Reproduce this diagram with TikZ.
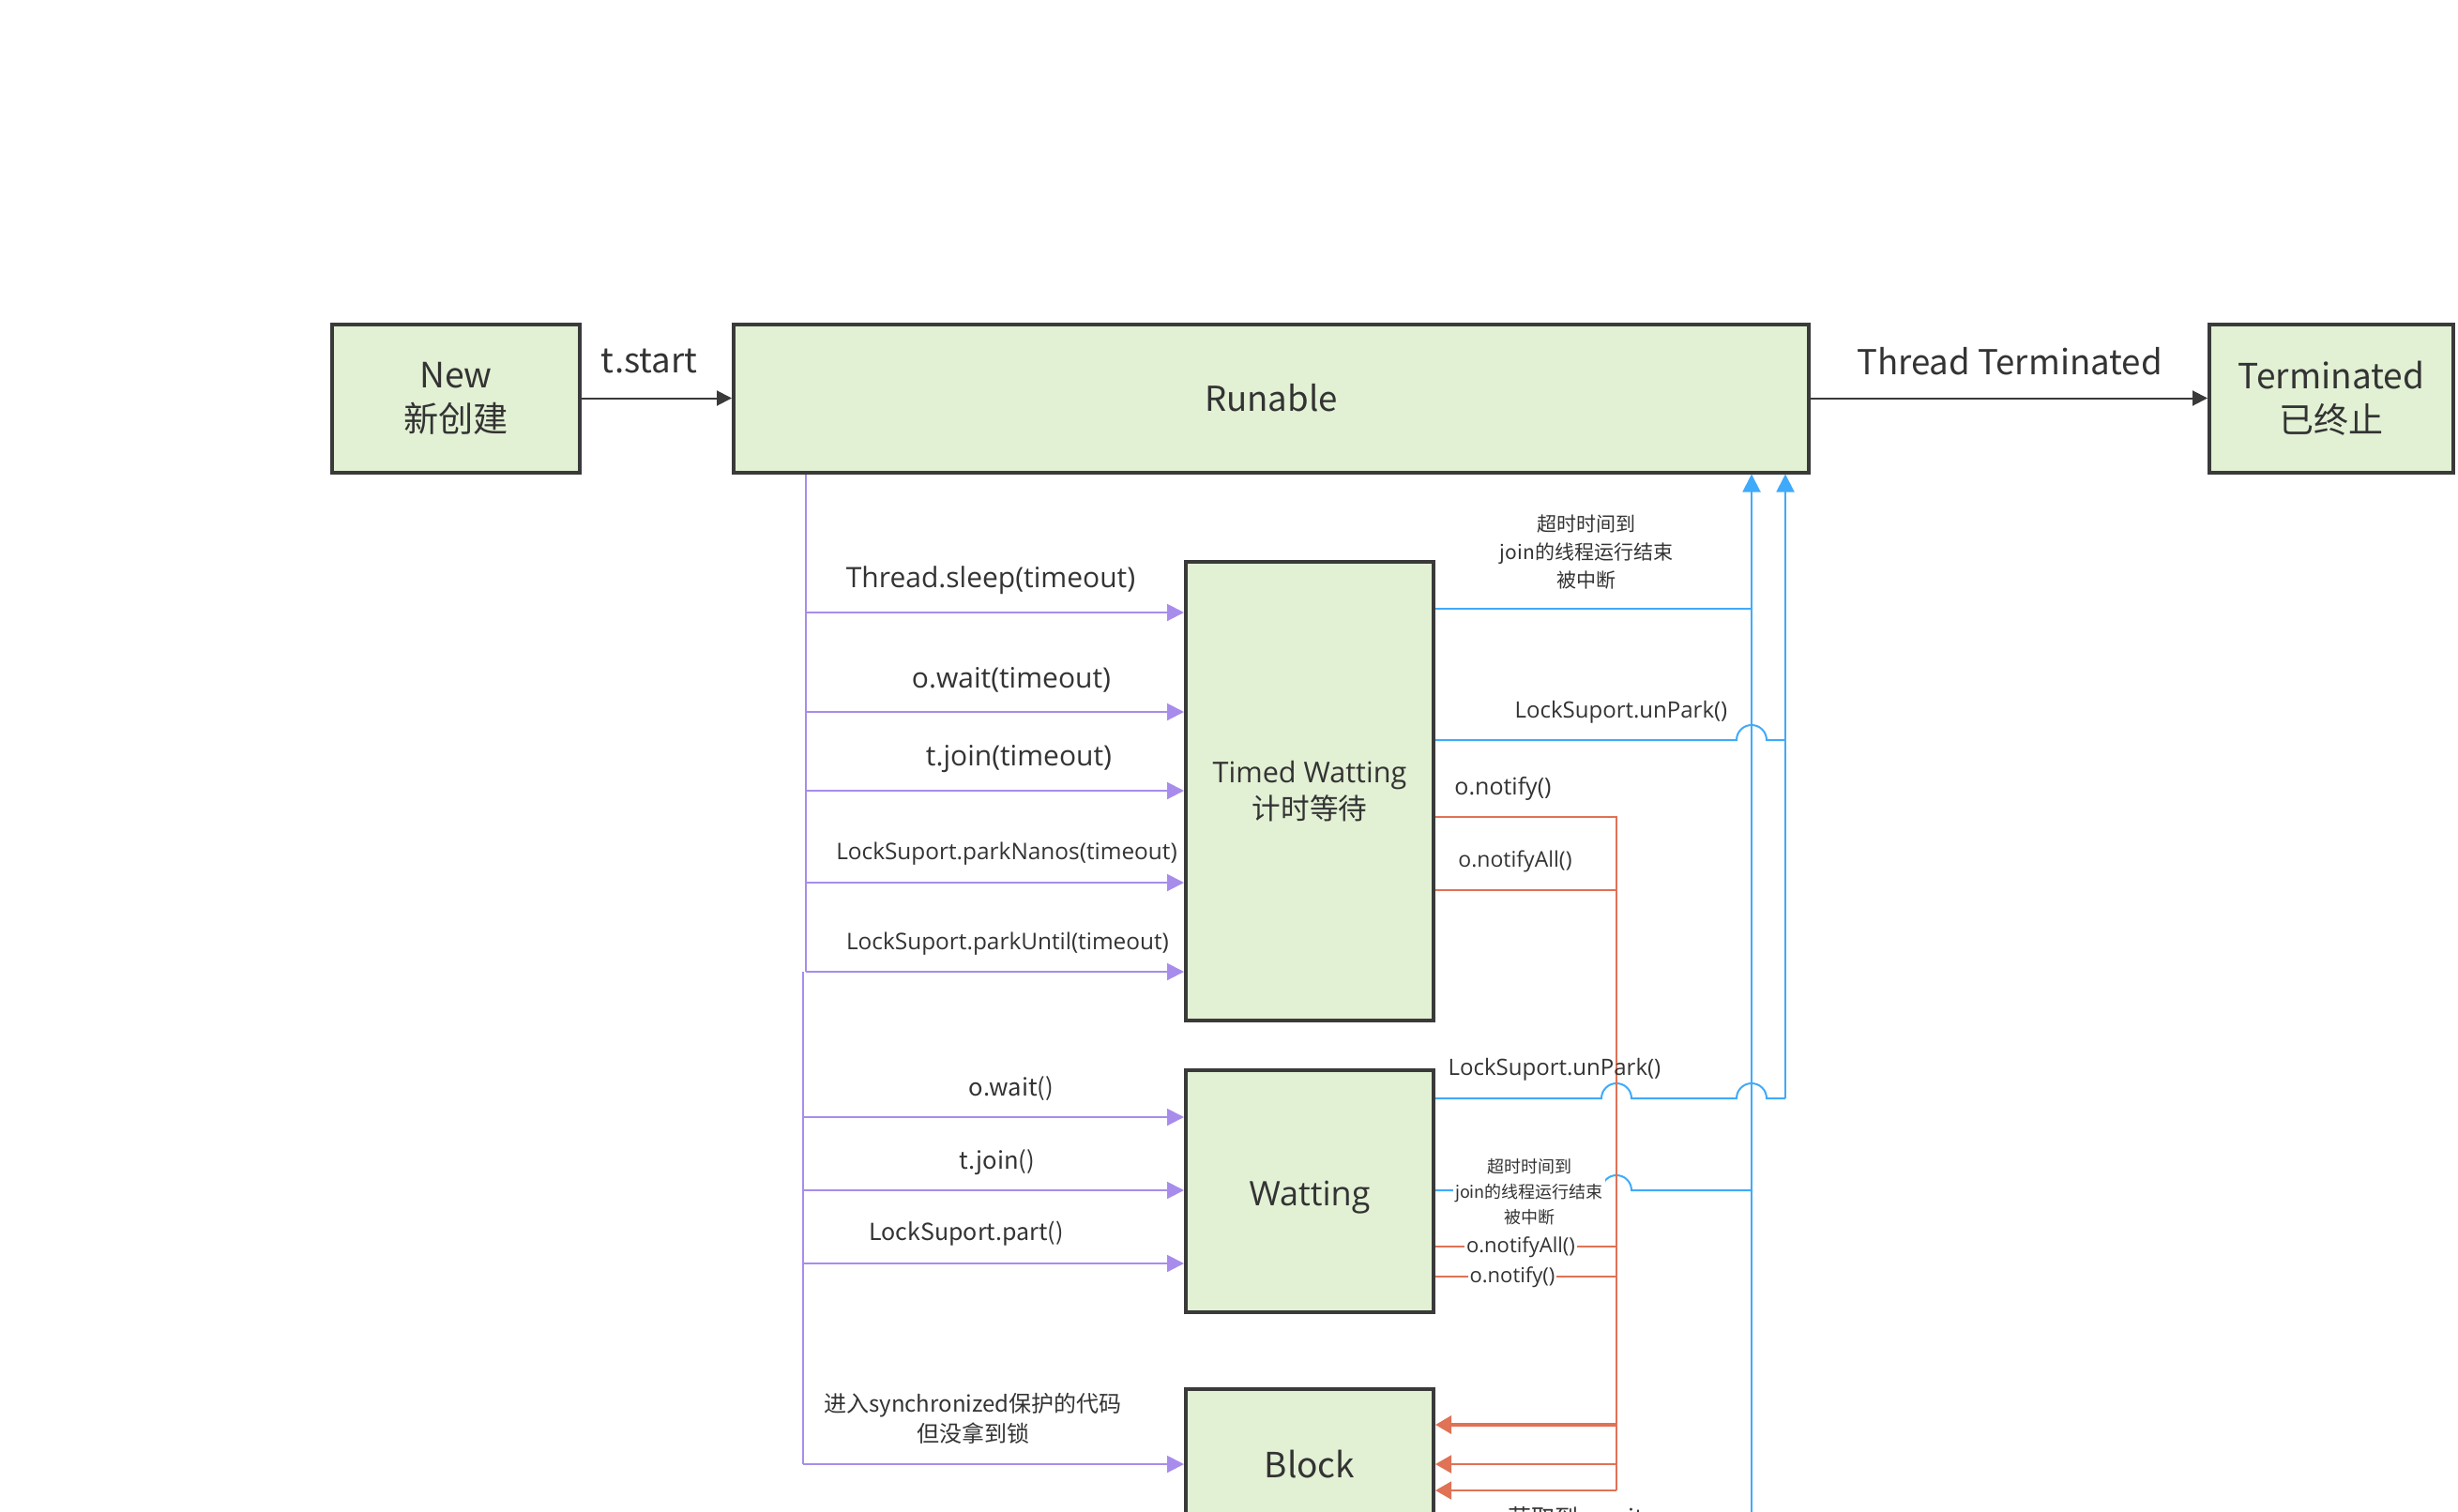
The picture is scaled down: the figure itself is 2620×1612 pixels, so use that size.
\documentclass[tikz,border=0pt]{standalone}
\usepackage{fontspec}
\setmainfont{Noto Sans CJK SC}
\newfontfamily\seg{Open Sans}
\usetikzlibrary{arrows.meta}
\definecolor{boxfill}{RGB}{226,240,212}
\definecolor{boxline}{RGB}{58,58,58}
\definecolor{txt}{RGB}{51,51,51}
\definecolor{purp}{RGB}{168,140,236}
\definecolor{blu}{RGB}{64,170,250}
\definecolor{redl}{RGB}{224,114,86}
\newcommand{\fs}[2]{\fontsize{#1pt}{#2pt}\selectfont}
\begin{document}
\begin{tikzpicture}[x=0.5pt,y=-0.5pt,
  state/.style={draw=boxline, line width=2pt, fill=boxfill, text=txt, align=center, inner sep=0pt, minimum width=132pt},
  lbl/.style={text=txt, inner sep=0pt, align=center},
  wlbl/.style={lbl, fill=white, inner xsep=1pt, inner ysep=0pt},
  darrow/.style={draw=boxline, line width=1pt, -{Triangle[length=8pt,width=8pt]}},
  pline/.style={draw=purp, line width=1pt},
  parrow/.style={pline, -{Triangle[length=9pt,width=9pt]}},
  bline/.style={draw=blu, line width=1pt},
  barrow/.style={bline, -{Triangle[length=9.5pt,width=9.5pt]}},
  rline/.style={draw=redl, line width=1pt},
  rarrow/.style={rline, -{Triangle[length=8.5pt,width=9.5pt]}}
]
\useasboundingbox (0,0) rectangle (2620,1612);
\clip (0,0) rectangle (2620,1612);

% states
\node[state, minimum height=79pt, font=\fs{18.6}{23.5}] (new) at (486,424.5) {New\\新创建};
\node[state, minimum width=573pt, minimum height=79pt, font=\fs{18.3}{23.5}] (run) at (1355,424.5) {Runable};
\node[state, minimum width=130pt, minimum height=79pt, font=\fs{18.5}{23.5}] (term) at (2485,424.5) {Terminated\\已终止};
\node[state, minimum height=244.75pt, font=\fs{15.3}{19.5}] (timed) at (1396,843.5) {{\seg Timed Watting}\\计时等待};
\node[state, minimum height=129pt, font=\seg\fs{18}{22}, text depth=0pt] (wait) at (1396,1270) {\raisebox{-2pt}{Watting}};
\node[state, minimum height=80pt, font=\fs{18.5}{22}] (block) at (1396,1561) {Block};

% top connectors
\draw[darrow] (new.east) -- (run.west);
\draw[darrow] (run.east) -- (term.west);
\node[lbl, font=\fs{18.3}{23}] (lstart) at (692,385) {t.start};
\node[lbl, font=\fs{18.3}{23}] (lterm) at (2142,385) {Thread Terminated};

% purple trunk 1
\coordinate (pA) at (859,1036);
\draw[pline] (run.south -| pA) -- (pA);
\foreach \y/\n in {653/a,759/b,843/c,941/d,1036/e}{
  \coordinate (t\n) at (859,\y);
  \draw[parrow] (t\n) -- (timed.west |- t\n);
}
% purple trunk 2
\coordinate (q0) at (856,1036);
\coordinate (q4) at (856,1561);
\draw[pline] (q0) -- (q4);
\foreach \y/\n in {1191/1,1269/2,1347/3}{
  \coordinate (q\n) at (856,\y);
  \draw[parrow] (q\n) -- (wait.west |- q\n);
}
\draw[parrow] (q4) -- (block.west |- q4);

% purple labels
\node[lbl, font=\seg\fs{15}{18}] (l1) at (1056,619) {Thread.sleep(timeout)};
\node[lbl, font=\seg\fs{15}{18}] (l2) at (1078,725) {o.wait(timeout)};
\node[lbl, font=\seg\fs{15}{18}] (l3) at (1086,809) {t.join(timeout)};
\node[lbl, font=\seg\fs{12.2}{15}] (l4) at (1073,910) {LockSuport.parkNanos(timeout)};
\node[lbl, font=\seg\fs{12.2}{15}] (l5) at (1074,1006) {LockSuport.parkUntil(timeout)};
\node[lbl, font=\fs{12.8}{16}] (l6) at (1078,1161) {o.wait()};
\node[lbl, font=\fs{12.8}{16}] (l7) at (1063,1239) {t.join()};
\node[lbl, font=\fs{12.5}{16}] (l8) at (1030,1315) {LockSuport.part()};
\node[lbl, font=\fs{12}{16}] (l9) at (1037,1512) {进入synchronized保护的代码\\但没拿到锁};

% blue verticals
\coordinate (bl) at (1867,1650);
\draw[barrow] (bl) -- (run.south -| bl);
\coordinate (br) at (1903,1171);
\draw[barrow] (br) -- (run.south -| br);
% blue horizontals
\coordinate (b1) at (1867,649);
\draw[bline] (timed.east |- b1) -- (b1);
\coordinate (b2) at (1903,789);
\draw[bline] (timed.east |- b2) -- (1851,789) arc[start angle=180,end angle=0,radius=8pt] -- (b2);
\draw[bline] (wait.east |- br) -- (1707,1171) arc[start angle=180,end angle=0,radius=8pt] -- (1851,1171) arc[start angle=180,end angle=0,radius=8pt] -- (br);
\coordinate (b4) at (1867,1269);
\draw[bline] (wait.east |- b4) -- (1707,1269) arc[start angle=180,end angle=0,radius=8pt] -- (b4);

% red
\coordinate (r0) at (1723,871);
\coordinate (rE) at (1723,1589);
\draw[rline] (timed.east |- r0) -- (r0) -- (rE);
\coordinate (r1) at (1723,949);
\draw[rline] (timed.east |- r1) -- (r1);
\coordinate (r2) at (1723,1329);
\draw[rline] (wait.east |- r2) -- (r2);
\coordinate (r3) at (1723,1361);
\draw[rline] (wait.east |- r3) -- (r3);
\coordinate (r4) at (1723,1519);
\draw[rarrow, line width=1.75pt] (r4) -- (block.east |- r4);
\coordinate (r5) at (1723,1561);
\draw[rarrow] (r5) -- (block.east |- r5);
\draw[rarrow] (rE) -- (block.east |- rE);

% right-side labels
\node[lbl, font=\fs{10.5}{15}] (u1) at (1691,589) {超时时间到\\join的线程运行结束\\被中断};
\node[lbl, font=\seg\fs{12}{15}] (u2) at (1728,759) {LockSuport.unPark()};
\node[lbl, font=\seg\fs{12.5}{15}] (u3) at (1602,841) {o.notify()};
\node[lbl, font=\seg\fs{11.5}{15}] (u4) at (1615,918) {o.notifyAll()};
\node[lbl, font=\seg\fs{12}{15}] (w1) at (1657,1140) {LockSuport.unPark()};
\node[wlbl, font=\fs{9}{13.5}] (w2) at (1630,1271) {超时时间到\\join的线程运行结束\\被中断};
\node[wlbl, font=\seg\fs{11}{14}] (w3) at (1621,1330) {o.notifyAll()};
\node[wlbl, font=\seg\fs{11}{14}] (w4) at (1612,1362) {o.notify()};
\node[lbl, font=\fs{12.5}{15}] (w5) at (1692,1618) {获取到monitor};
\end{tikzpicture}
\end{document}
